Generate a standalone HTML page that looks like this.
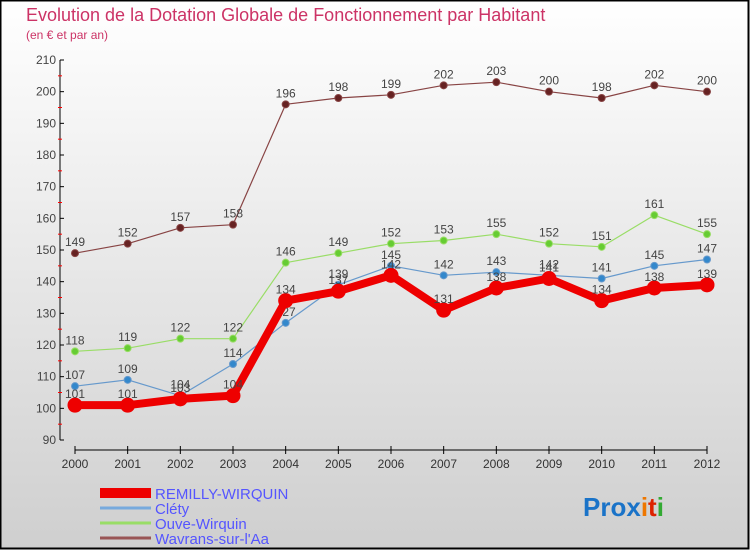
<!DOCTYPE html>
<html><head><meta charset="utf-8"><style>
body{margin:0;width:750px;height:550px;overflow:hidden;font-family:"Liberation Sans",sans-serif}
</style></head><body>
<svg id="c" width="750" height="550" xmlns="http://www.w3.org/2000/svg">
<defs><linearGradient id="bg" x1="0" y1="0" x2="0" y2="1"><stop offset="0" stop-color="#ffffff"/><stop offset="1" stop-color="#cfcfcf"/></linearGradient></defs>
<rect x="0.5" y="0.5" width="748" height="548" fill="url(#bg)" stroke="#000" stroke-width="2"/>
<text x="26" y="21" font-size="18" fill="#cc3366">Evolution de la Dotation Globale de Fonctionnement par Habitant</text>
<text x="26" y="39" font-size="12" fill="#cc3366">(en € et par an)</text>
<g id="axes"></g>
<g id="series"></g>
<g id="legend"></g>
<g font-size="26" font-weight="bold">
<text x="583" y="516"><tspan fill="#1a73c8">Pro</tspan><tspan fill="#1a73c8">x</tspan><tspan fill="#ee7700">i</tspan><tspan fill="#dd2200">t</tspan><tspan fill="#33aa33">i</tspan></text>
</g>
</svg>
<script>
const years=["2000","2001","2002","2003","2004","2005","2006","2007","2008","2009","2010","2011","2012"];
const remilly=[101,101,103,104,134,137,142,131,138,141,134,138,139];
const clety=[107,109,104,114,127,139,145,142,143,142,141,145,147];
const ouve=[118,119,122,122,146,149,152,153,155,152,151,161,155];
const wavrans=[149,152,157,158,196,198,199,202,203,200,198,202,200];
const yTicks=[90,100,110,120,130,140,150,160,170,180,190,200,210];
const seriesNames=["REMILLY-WIRQUIN","Cléty","Ouve-Wirquin","Wavrans-sur-l'Aa"];
const NS="http://www.w3.org/2000/svg";
function X(i){return 75+i*(707-75)/(years.length-1);}
function Y(v){return 440-(v-90)*(380/120);}
function mk(tag,attrs,parent){const e=document.createElementNS(NS,tag);for(const k in attrs)e.setAttribute(k,attrs[k]);parent.appendChild(e);return e;}
const ax=document.getElementById('axes');
let yl=mk('line',{x1:60,y1:Y(210),x2:60,y2:Y(90),stroke:'#000'},ax);


yTicks.forEach((t,i)=>{
  mk('line',{x1:60,y1:Y(t),x2:64,y2:Y(t),stroke:'#000'},ax);
  if(i<yTicks.length-1)mk('line',{x1:58,y1:Y(t+5),x2:62,y2:Y(t+5),stroke:'#ff0000'},ax);
  const tx=mk('text',{x:56,y:Y(t)+4,'text-anchor':'end','font-size':12,fill:'#444'},ax);
  tx.textContent=t;
  
  
});
let xl=mk('line',{x1:X(0),y1:450,x2:X(12),y2:450,stroke:'#000'},ax);


years.forEach((y,i)=>{
  mk('line',{x1:X(i),y1:446,x2:X(i),y2:454,stroke:'#000'},ax);
  const tx=mk('text',{x:X(i),y:468,'text-anchor':'middle','font-size':12,fill:'#333'},ax);
  tx.textContent=y;
  
  
});
const sg=document.getElementById('series');
function draw(data,color,dark,w,r,name,labelAbove){
  const g=mk('g',{},sg);
  
  
  mk('polyline',{points:data.map((v,i)=>X(i)+','+Y(v)).join(' '),fill:'none',stroke:color,'stroke-width':w,'stroke-linejoin':'round'},g);
  data.forEach((v,i)=>{
    const c=mk('circle',{cx:X(i),cy:Y(v),r:r,fill:dark,stroke:color,'stroke-width':1},g);
    
    
    const t=mk('text',{x:X(i),y:labelAbove?Y(v)-7:Y(v)-9,'text-anchor':'middle','font-size':12,fill:'#444'},g);
    t.textContent=v;
  });
}
draw(wavrans,'#884444','#662222',1.2,3.5,'series-wavrans',true);
draw(ouve,'#99dd66','#66cc33',1.2,3.5,'series-ouve-wirquin',true);
draw(clety,'#6699cc','#3388cc',1.2,3.5,'series-clety',true);
draw(remilly,'#ee0000','#ee0000',8,7,'series-remilly',true);
const lg=document.getElementById('legend');
const lc=[['#ee0000',10],['#77aadd',3],['#99dd66',3],['#995555',3]];
seriesNames.forEach((n,i)=>{
  const y=493+i*15;
  const g=mk('g',{},lg);
  
  
  mk('line',{x1:100,y1:y,x2:151,y2:y,stroke:lc[i][0],'stroke-width':lc[i][1]},g);
  const t=mk('text',{x:155,y:y+6,'font-size':15,fill:'#5555ff'},g);
  t.textContent=n;
});
</script>
</body></html>
